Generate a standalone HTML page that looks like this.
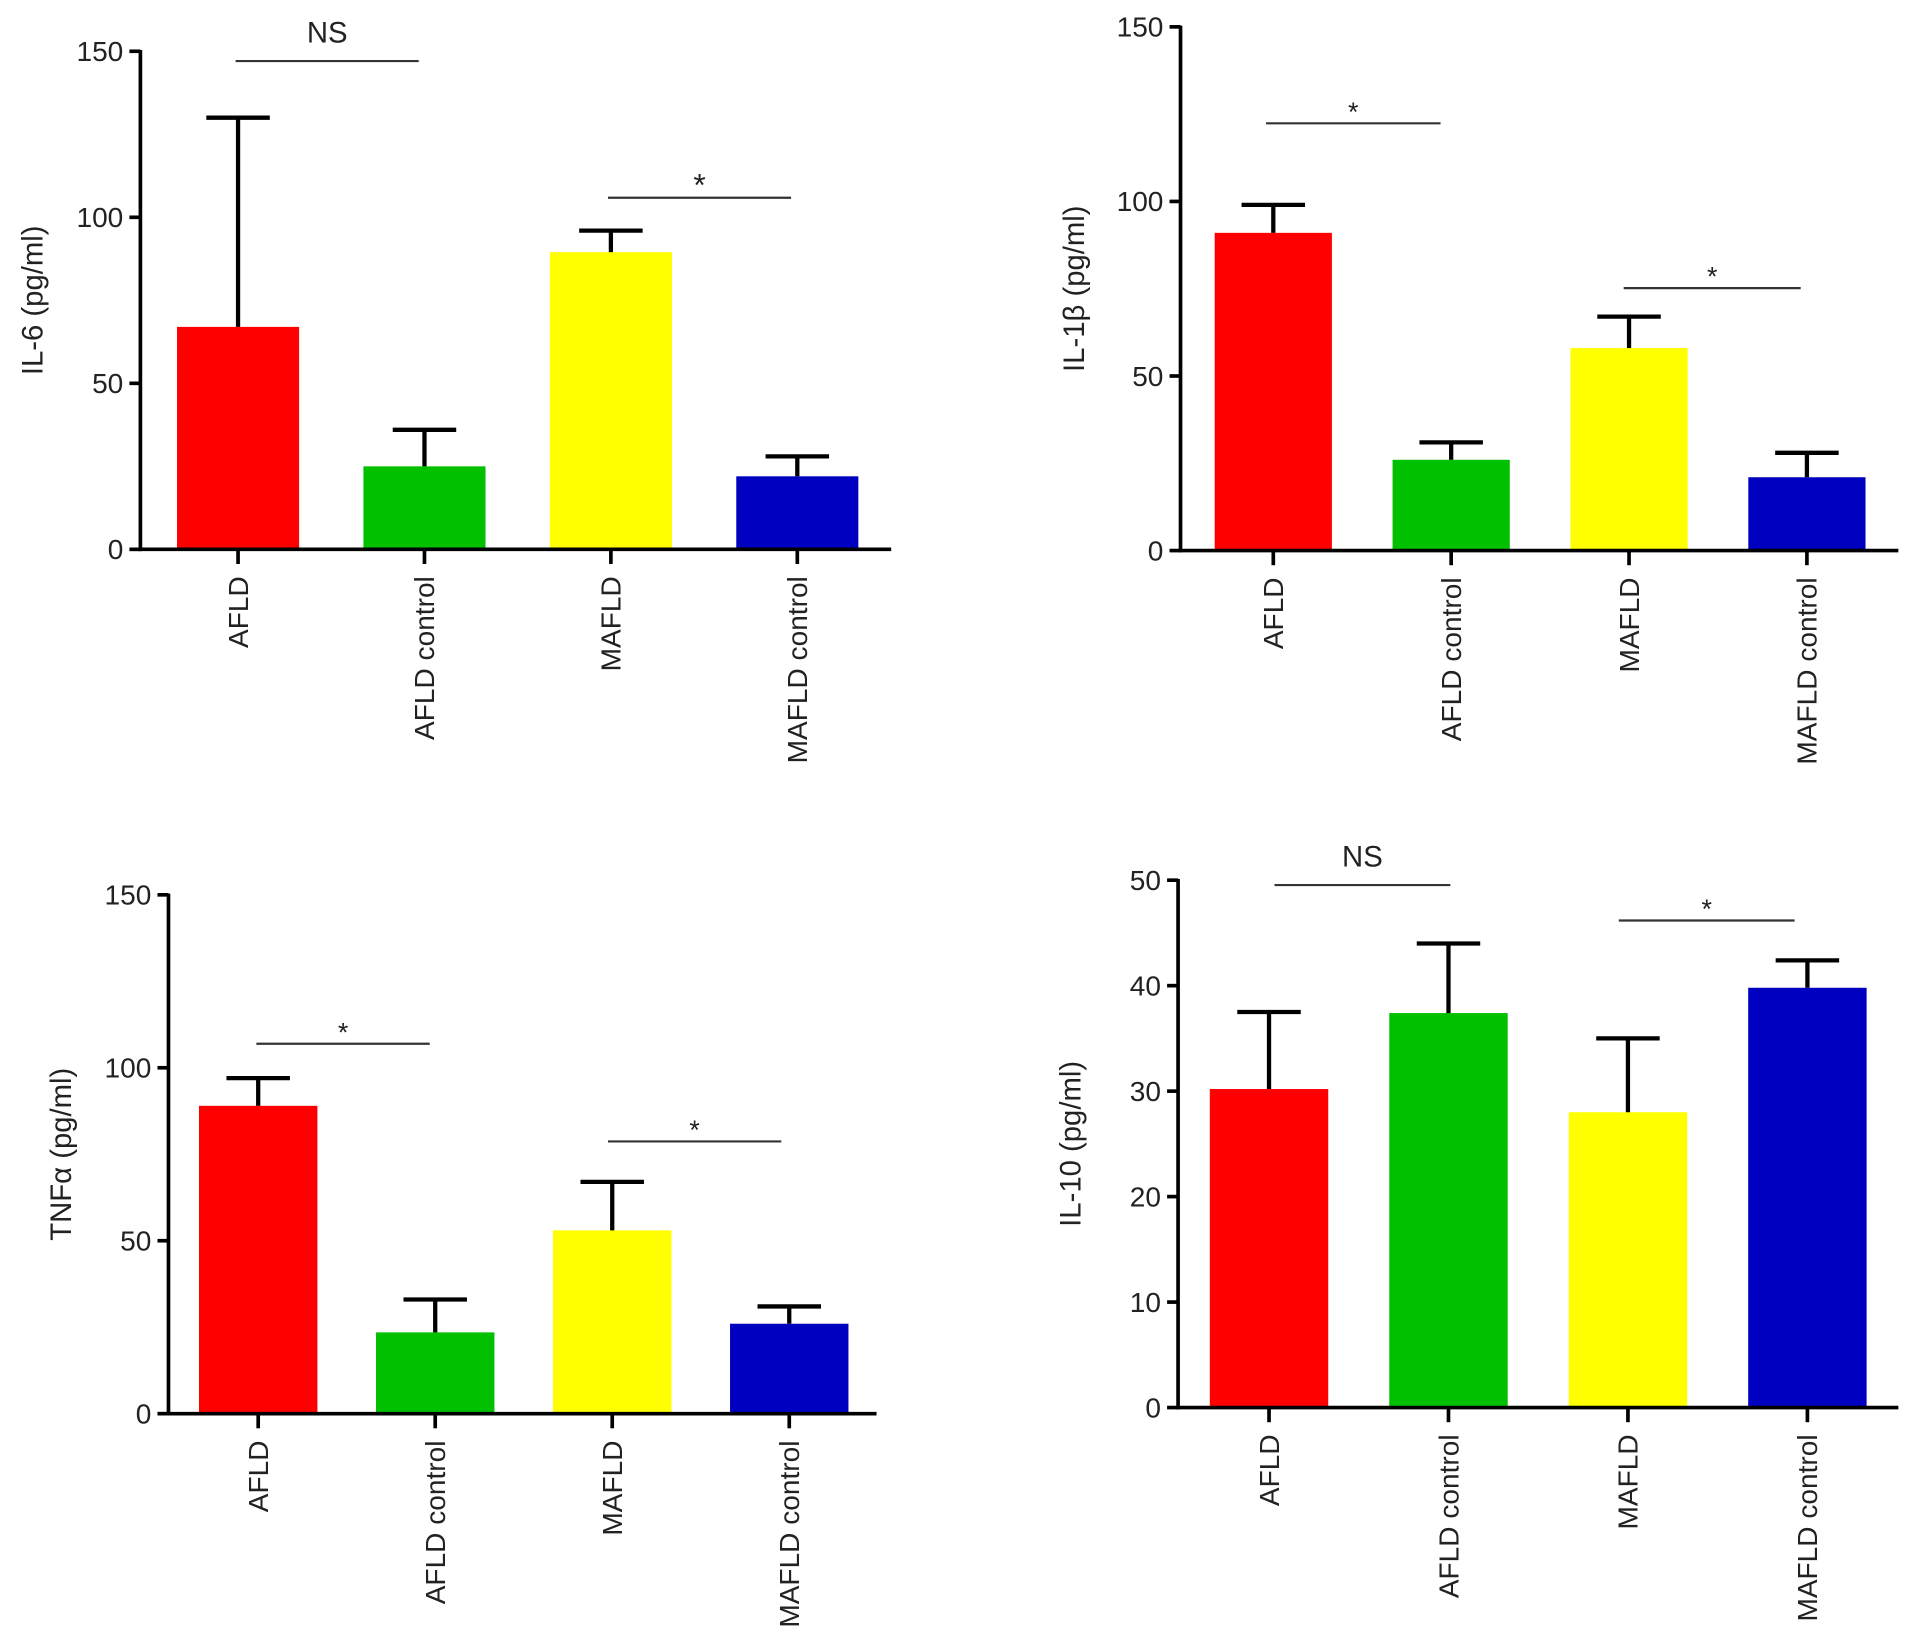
<!DOCTYPE html>
<html><head><meta charset="utf-8"><style>
html,body{margin:0;padding:0;background:#fff}
svg{display:block}
text{font-family:"Liberation Sans",Arial,sans-serif;fill:#222}
</style></head><body>
<svg id="fig" xmlns="http://www.w3.org/2000/svg" width="1913" height="1645" viewBox="0 0 1567 1347.5" preserveAspectRatio="none"></svg>
<script>
const categories = ["AFLD","AFLD control","MAFLD","MAFLD control"];
const colors = ["#ff0000","#00c000","#ffff00","#0000c0"];
const il6Values = [67, 25, 89.5, 22];
const il6Errors = [130, 36, 96, 28];
const il1bValues = [91, 26, 58, 21];
const il1bErrors = [99, 31, 67, 28];
const tnfValues = [89, 23.5, 53, 26];
const tnfErrors = [97, 33, 67, 31];
const il10Values = [30.2, 37.4, 28, 39.8];
const il10Errors = [37.5, 44, 35, 42.4];
const ticks150 = [0, 50, 100, 150];
const ticks50 = [0, 10, 20, 30, 40, 50];

const NS="http://www.w3.org/2000/svg";
const svg=document.getElementById('fig');
function mk(tag,attrs,parent){const e=document.createElementNS(NS,tag);for(const k in attrs)e.setAttribute(k,attrs[k]);(parent||svg).appendChild(e);return e;}

const panels=[
 {name:'il6',title:'IL-6 (pg/ml)',vals:il6Values,errs:il6Errors,ticks:ticks150,max:150,ax:115,yTop:42,yBot:450,xEnd:730,first:145,step:152.7,bw:100,titleX:27,
  sig:[{t:'NS',x1:193,x2:343,y:50,size:24},{t:'*',x1:498,x2:648,y:162,size:26}]},
 {name:'il1b',title:'IL-1β (pg/ml)',vals:il1bValues,errs:il1bErrors,ticks:ticks150,max:150,ax:967,yTop:22,yBot:451,xEnd:1555,first:995,step:145.7,bw:96,titleX:880,
  sig:[{t:'*',x1:1037,x2:1180,y:101,size:22},{t:'*',x1:1330,x2:1475,y:236,size:22}]},
 {name:'tnf',title:'TNFα (pg/ml)',vals:tnfValues,errs:tnfErrors,ticks:ticks150,max:150,ax:138,yTop:733,yBot:1158,xEnd:718,first:163,step:145,bw:97,titleX:50,
  sig:[{t:'*',x1:210,x2:352,y:855,size:22},{t:'*',x1:498,x2:640,y:935,size:22}]},
 {name:'il10',title:'IL-10 (pg/ml)',vals:il10Values,errs:il10Errors,ticks:ticks50,max:50,ax:965,yTop:721,yBot:1153,xEnd:1555,first:991,step:147,bw:97,titleX:877,
  sig:[{t:'NS',x1:1044,x2:1188,y:725,size:24},{t:'*',x1:1326,x2:1470,y:754,size:22}]}
];

panels.forEach(p=>{
  const g=mk('g',{});
  
  
  const y=v=>p.yBot-(v/p.max)*(p.yBot-p.yTop);
  const cx=i=>p.first+i*p.step+p.bw/2;
  p.vals.forEach((v,i)=>{
    const r=mk('rect',{x:p.first+i*p.step,y:y(v),width:p.bw,height:p.yBot-y(v),fill:colors[i]},g);
    
    
    const eb=mk('g',{stroke:'#000','stroke-width':3.5},g);
    
    
    mk('line',{x1:cx(i),x2:cx(i),y1:y(v),y2:y(p.errs[i])},eb);
    mk('line',{x1:cx(i)-26,x2:cx(i)+26,y1:y(p.errs[i]),y2:y(p.errs[i])},eb);
  });
  const ya=mk('line',{x1:p.ax,x2:p.ax,y1:p.yTop-1,y2:p.yBot+1.5,stroke:'#000','stroke-width':3},g);
  
  
  const xa=mk('line',{x1:p.ax-1.5,x2:p.xEnd,y1:p.yBot,y2:p.yBot,stroke:'#000','stroke-width':3},g);
  
  
  p.ticks.forEach(t=>{
    mk('line',{x1:p.ax-9,x2:p.ax,y1:y(t),y2:y(t),stroke:'#000','stroke-width':3},g);
    const tx=mk('text',{x:p.ax-14,y:y(t)+8,'text-anchor':'end','font-size':23},g);
    tx.textContent=t;
    
    
  });
  categories.forEach((c,i)=>{
    mk('line',{x1:cx(i),x2:cx(i),y1:p.yBot,y2:p.yBot+12,stroke:'#000','stroke-width':3},g);
    const tx=mk('text',{x:0,y:0,'text-anchor':'end','font-size':23,transform:`translate(${cx(i)+8},${p.yBot+22}) rotate(-90)`},g);
    tx.textContent=c;
    
    
  });
  const ty=(p.yTop+p.yBot)/2;
  const tt=mk('text',{x:0,y:0,'text-anchor':'middle','font-size':24,transform:`translate(${p.titleX+8},${ty}) rotate(-90)`},g);
  tt.textContent=p.title;
  
  
  p.sig.forEach(s=>{
    const sg=mk('g',{},g);
    
    
    mk('line',{x1:s.x1,x2:s.x2,y1:s.y,y2:s.y,stroke:'#333','stroke-width':1.8},sg);
    const st=mk('text',{x:(s.x1+s.x2)/2,y:s.t==='NS'?s.y-15:s.y-2,'text-anchor':'middle','font-size':s.size},sg);
    st.textContent=s.t;
  });
});
</script>
</body></html>
